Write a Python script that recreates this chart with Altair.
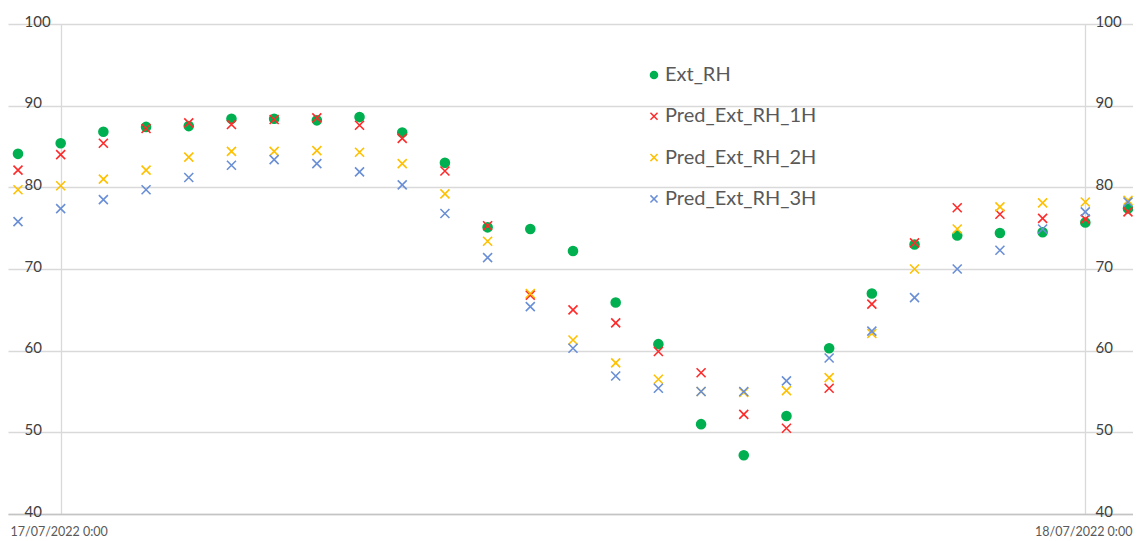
import altair as alt
import pandas as pd

# hours relative to 17/07/2022 0:00
hours = list(range(-1, 26))
ext_rh = [84.1, 85.4, 86.8, 87.4, 87.5, 88.4, 88.4, 88.2, 88.6, 86.7, 83.0, 75.1, 74.9, 72.2,
          65.9, 60.8, 51.0, 47.2, 52.0, 60.3, 67.0, 73.0, 74.1, 74.4, 74.5, 75.7, 77.4]
pred_1h = [82.1, 84.0, 85.4, 87.2, 87.9, 87.7, 88.3, 88.5, 87.6, 86.0, 82.0, 75.3, 66.8, 65.0,
           63.4, 59.9, 57.3, 52.2, 50.5, 55.4, 65.7, 73.2, 77.5, 76.7, 76.2, 76.1, 77.0]
pred_2h = [79.7, 80.2, 81.0, 82.1, 83.7, 84.4, 84.4, 84.5, 84.3, 82.9, 79.2, 73.4, 67.0, 61.3,
           58.5, 56.5, 55.0, 54.9, 55.1, 56.7, 62.1, 70.0, 74.9, 77.6, 78.1, 78.2, 78.4]
pred_3h = [75.8, 77.4, 78.5, 79.7, 81.2, 82.7, 83.4, 82.9, 81.9, 80.3, 76.8, 71.4, 65.4, 60.3,
           56.9, 55.4, 55.0, 55.0, 56.3, 59.1, 62.4, 66.5, 70.0, 72.3, 74.9, 77.0, 78.2]

series_names = ["Ext_RH", "Pred_Ext_RH_1H", "Pred_Ext_RH_2H", "Pred_Ext_RH_3H"]
series_colors = ["#00B050", "#FF2A2A", "#FFC000", "#6A8FD6"]
y_ticks = [40, 50, 60, 70, 80, 90, 100]
x_tick_values = [0, 24]
x_tick_labels = ["17/07/2022 0:00", "18/07/2022 0:00"]

XPATH = "M-1,-1L1,1M1,-1L-1,1"

rows = []
for name, vals in zip(series_names, [ext_rh, pred_1h, pred_2h, pred_3h]):
    for h, v in zip(hours, vals):
        rows.append({"hour": h, "value": v, "series": name})
df = pd.DataFrame(rows)

label_expr = " : ".join(
    f"datum.value == {v} ? '{t}'" for v, t in zip(x_tick_values, x_tick_labels)
) + " : ''"

x_scale = alt.Scale(domain=[-1.234, 25.117], nice=False, zero=False)

x_enc = alt.X(
    "hour:Q",
    scale=x_scale,
    axis=alt.Axis(
        values=x_tick_values, labelExpr=label_expr, title=None, grid=True,
        gridColor="#d9d9d9", gridWidth=1.3, ticks=False, domain=True,
        domainColor="#c4c4c4", domainWidth=1.5, labelPadding=11, labelOffset=-2,
        labelFont="Lato", labelFontSize=12.5, labelColor="#595959",
        labelBaseline="top", labelFlush=False, labelOverlap=False,
    ),
)

y_scale = alt.Scale(domain=[40, 100], nice=False, zero=False)

points = alt.Chart(df).mark_point(filled=False, size=81, strokeWidth=1.6, opacity=1).encode(
    x=x_enc,
    y=alt.Y(
        "value:Q", scale=y_scale,
        axis=alt.Axis(
            orient="left", values=y_ticks, title=None, grid=True, gridColor="#d9d9d9",
            gridWidth=1.3, domain=False, ticks=False, labelAlign="left", labelPadding=-16,
            labelFont="Lato", labelFontSize=15, labelColor="#404040",
            labelBaseline="middle", labelOffset=-3, labelFlush=False, labelOverlap=False,
        ),
    ),
    color=alt.Color(
        "series:N", scale=alt.Scale(domain=series_names, range=series_colors),
        legend=alt.Legend(
            orient="none", legendX=636, legendY=41, title=None, labelFont="Lato",
            labelFontSize=20, labelColor="#595959", symbolSize=50, symbolStrokeWidth=1.5,
            rowPadding=21.3, labelOffset=1, padding=0, labelLimit=400,
        ),
    ),
    fill=alt.Fill("series:N", scale=alt.Scale(domain=series_names, range=series_colors)),
    shape=alt.Shape(
        "series:N",
        scale=alt.Scale(domain=series_names, range=["circle", XPATH, XPATH, XPATH]),
    ),
    order=alt.Order("order:Q"),
).transform_calculate(order="indexof(" + str(series_names) + ", datum.series)")

right_axis = alt.Chart(df).mark_point(opacity=0).encode(
    y=alt.Y(
        "value:Q", scale=y_scale,
        axis=alt.Axis(
            orient="right", values=y_ticks, title=None, grid=False, domain=False,
            ticks=False, labelAlign="left", labelPadding=-38, labelFont="Lato",
            labelFontSize=15, labelColor="#404040", labelBaseline="middle",
            labelOffset=-3, labelFlush=False, labelOverlap=False,
        ),
    ),
)

chart = alt.layer(points, right_axis).resolve_axis(y="independent").properties(
    width=1125, height=490,
    padding={"left": 0, "top": 16, "right": 0, "bottom": 26},
    autosize=alt.AutoSizeParams(type="none"),
    background="white",
).configure_view(strokeWidth=0)

chart.save("out.html", embed_options={"renderer": "svg", "actions": False})
